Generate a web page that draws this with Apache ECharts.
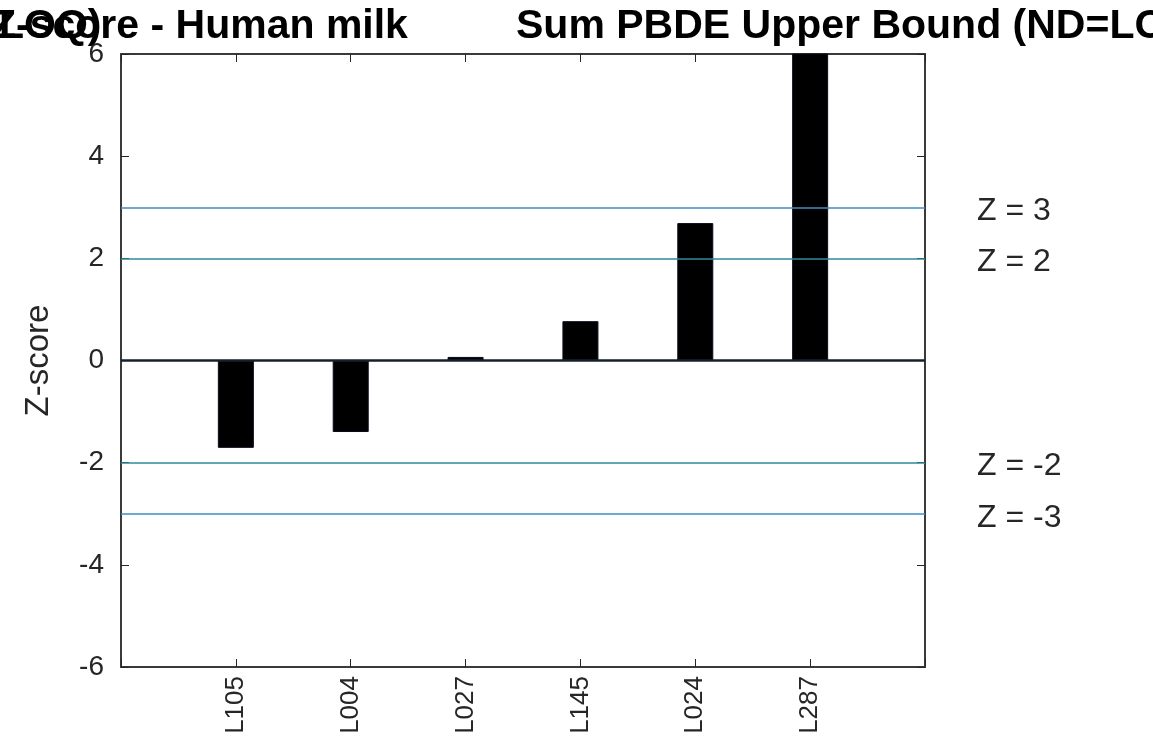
<!DOCTYPE html>
<html>
<head>
<meta charset="utf-8">
<script src="https://cdn.jsdelivr.net/npm/echarts@6/dist/echarts.min.js"></script>
<style>
html,body{margin:0;padding:0;background:#fff;}
#chart{width:1153px;height:739px;}
</style>
</head>
<body>
<div id="chart"></div>
<script>
// Data
var categories = ['L105', 'L004', 'L027', 'L145', 'L024', 'L287'];
var zScores = [-1.71, -1.40, 0.07, 0.77, 2.69, 6.3];
var yTicks = [-6, -4, -2, 0, 2, 4, 6];
var refLines = [3, 2, -2, -3];
var titleLeft = 'Z-score - Human milk';
var titleRight = 'Sum PBDE Upper Bound (ND=LOQ)';
var titleWrap = 'LOQ)';
var yName = 'Z-score';

// pad categories so they sit at positions 1..6 on a 0..7 axis
var xCats = [''].concat(categories).concat(['']);
var barData = [null].concat(zScores).concat([null]);

var tickColor = '#262626';
var boxColor = '#3a3a3a';
var font = 'Liberation Sans, Arial, Helvetica, sans-serif';

var chart = echarts.init(document.getElementById('chart'), null, {renderer: 'canvas'});

var markData = refLines.map(function (v) {
  return {
    yAxis: v,
    lineStyle: {color: Math.abs(v) === 3 ? '#3b8dc4' : '#2d8b9b', width: 1.6, type: 'solid'},
    label: {show: true, position: 'end', distance: 52, formatter: 'Z = ' + v,
            fontSize: 32, color: tickColor, fontFamily: font, offset: [0, 4]}
  };
});
markData.push({
  yAxis: 0,
  lineStyle: {color: '#14202c', width: 2.5, type: 'solid'},
  label: {show: false}
});

var option = {
  backgroundColor: '#ffffff',
  animation: false,
  textStyle: {fontFamily: font},
  grid: {left: 121, top: 54, right: 228, bottom: 72, containLabel: false},
  xAxis: [{
    type: 'category',
    data: xCats,
    boundaryGap: false,
    position: 'bottom',
    axisLine: {show: true, onZero: false, lineStyle: {color: boxColor, width: 2}},
    axisTick: {show: true, inside: true, length: 8, lineStyle: {color: tickColor, width: 1}},
    axisLabel: {rotate: 90, fontSize: 26, color: tickColor, margin: 9, fontFamily: font, interval: 0},
    splitLine: {show: false}
  }, {
    type: 'category',
    data: xCats,
    boundaryGap: false,
    position: 'top',
    axisLine: {show: true, onZero: false, lineStyle: {color: boxColor, width: 2}},
    axisTick: {show: true, inside: true, length: 8, lineStyle: {color: tickColor, width: 1}},
    axisLabel: {show: false},
    splitLine: {show: false}
  }],
  yAxis: [{
    type: 'value',
    min: -6, max: 6, interval: 2,
    position: 'left',
    name: yName,
    nameLocation: 'middle',
    nameGap: 66,
    nameRotate: 90,
    nameTextStyle: {fontSize: 33, color: tickColor, fontFamily: font},
    axisLine: {show: true, onZero: false, lineStyle: {color: boxColor, width: 2}},
    axisTick: {show: true, inside: true, length: 8, lineStyle: {color: tickColor, width: 1}},
    axisLabel: {fontSize: 28, color: tickColor, margin: 17, fontFamily: font,
                customValues: yTicks},
    splitLine: {show: false}
  }, {
    type: 'value',
    min: -6, max: 6, interval: 2,
    position: 'right',
    axisLine: {show: true, onZero: false, lineStyle: {color: boxColor, width: 2}},
    axisTick: {show: true, inside: true, length: 8, lineStyle: {color: tickColor, width: 1}},
    axisLabel: {show: false},
    splitLine: {show: false}
  }],
  series: [{
    type: 'bar',
    data: barData,
    xAxisIndex: 0,
    yAxisIndex: 0,
    barWidth: 36,
    clip: true,
    itemStyle: {color: '#000000', borderColor: '#0a0a1e', borderWidth: 1},
    markLine: {
      silent: true,
      symbol: ['none', 'none'],
      animation: false,
      data: markData
    }
  }],
  graphic: [{
    type: 'text',
    x: -9, y: 27,
    style: {text: titleLeft, font: 'bold 41px ' + font, fill: '#000',
            textVerticalAlign: 'middle', textAlign: 'left'}
  }, {
    type: 'text',
    x: -1, y: 27,
    style: {text: titleWrap, font: 'bold 41px ' + font, fill: '#000',
            textVerticalAlign: 'middle', textAlign: 'left'}
  }, {
    type: 'text',
    x: 516, y: 27,
    style: {text: titleRight, font: 'bold 41px ' + font, fill: '#000',
            textVerticalAlign: 'middle', textAlign: 'left'}
  }]
};
chart.setOption(option);
</script>
</body>
</html>
